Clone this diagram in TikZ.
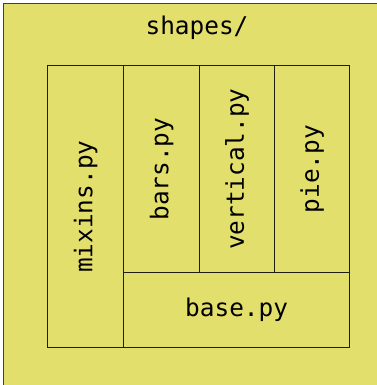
\documentclass[tikz,border=0pt]{standalone}
\usepackage{fontspec}
\setmonofont{DejaVu Sans Mono}
\definecolor{pkgfill}{RGB}{227,223,108}
\definecolor{edge}{RGB}{30,30,20}
\begin{document}
\begin{tikzpicture}[x=1bp,y=-1bp,
  cell/.style={draw=edge,line width=1.3bp,fill=pkgfill,inner sep=0pt,anchor=north west},
  lbl/.style={font=\fontsize{24.5}{28}\selectfont\ttfamily,text=black}]
\useasboundingbox (0,0) rectangle (377,385);
\node[draw=edge!85,line width=1.2bp,fill=pkgfill,inner sep=0pt,anchor=north west,minimum width=380bp,minimum height=390bp] (pkg) at (3,3) {};
\node[lbl] (pkgname) at (197,28) {shapes/};
\node[cell,minimum width=76bp,minimum height=282bp] (mixins) at (47,65) {};
\node[cell,minimum width=76bp,minimum height=207bp] (bars) at (123,65) {};
\node[cell,minimum width=75bp,minimum height=207bp] (vertical) at (199,65) {};
\node[cell,minimum width=75bp,minimum height=207bp] (pie) at (274,65) {};
\node[cell,minimum width=226bp,minimum height=75bp] (base) at (123,272) {};
\node[lbl,rotate=90] at (mixins.center) {mixins.py};
\node[lbl,rotate=90] at (bars.center) {bars.py};
\node[lbl,rotate=90] at (vertical.center) {vertical.py};
\node[lbl,rotate=90] at (pie.center) {pie.py};
\node[lbl] at (base.center) {base.py};
\end{tikzpicture}
\end{document}
